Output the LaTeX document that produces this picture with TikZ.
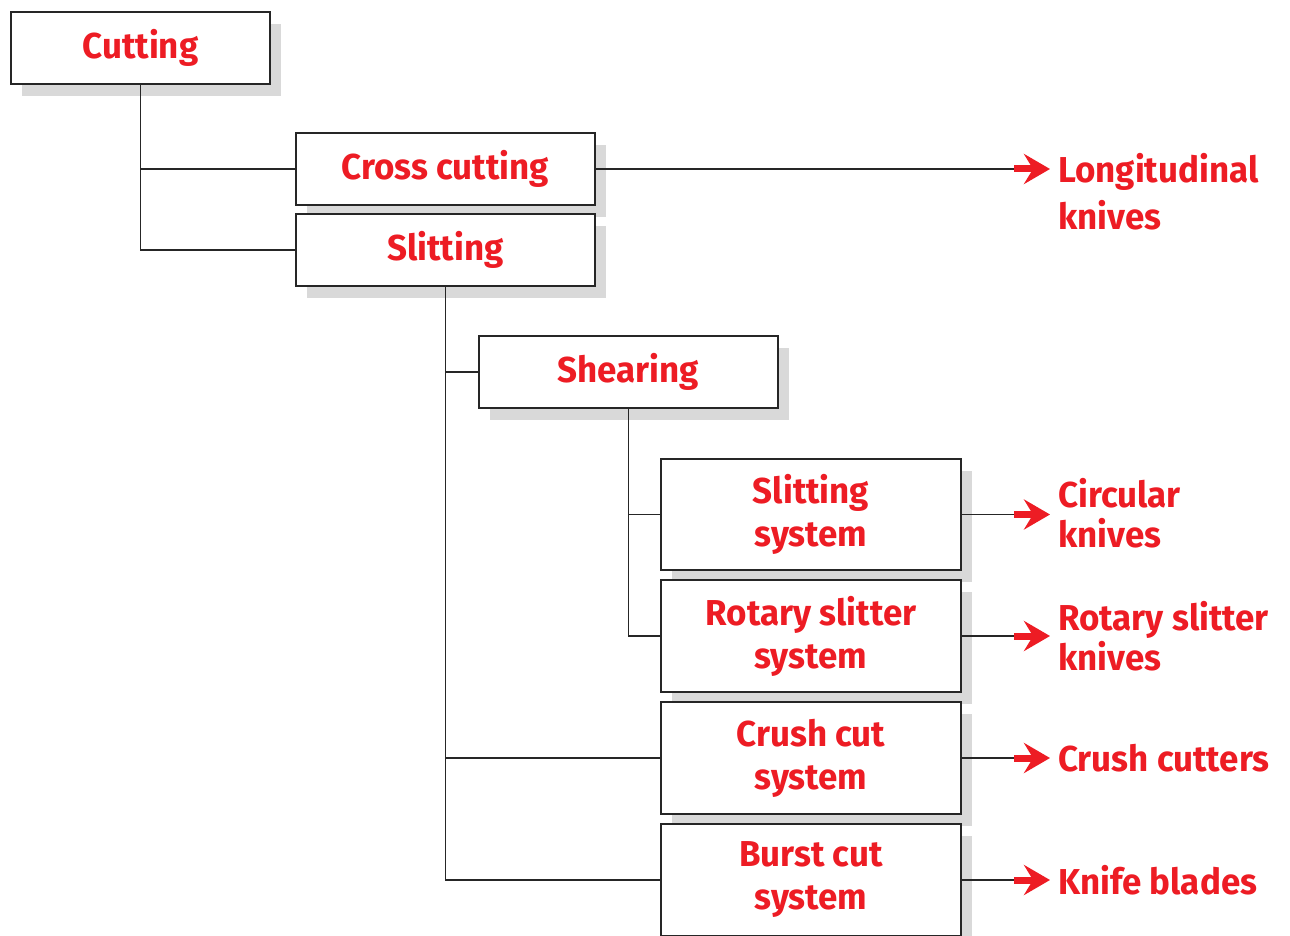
\documentclass[tikz,border=0pt]{standalone}
\usepackage{fontspec}
\setmainfont{Fira Sans}[FakeStretch=0.97]
\usetikzlibrary{arrows.meta,shadows}
\definecolor{cutred}{RGB}{237,28,36}
\definecolor{shadowgrey}{RGB}{217,217,217}
\tikzset{
  box/.style={draw=black!85, line width=1.4pt, fill=white, inner sep=0pt,
    general shadow={fill=shadowgrey, shadow xshift=11pt, shadow yshift=-12pt},
    font=\fontsize{36}{43}\selectfont\bfseries, text=cutred, align=center},
  label/.style={font=\fontsize{36}{40}\selectfont\bfseries, text=cutred, align=left, inner sep=0pt, anchor=west},
  wire/.style={line width=1.2pt, black!85},
  redarrow/.style={draw=cutred, line width=7pt, -{Stealth[length=26pt,width=30pt,inset=9pt]}}
}
\begin{document}
\begin{tikzpicture}[x=1pt,y=1pt,yscale=-1,xscale=1]
  \clip (0,0) rectangle (1290,936);
  %Shapes: boxes
  \node[box, minimum width=259, minimum height=72] (cutting) at (140.5,48) {Cutting};
  \node[box, minimum width=299, minimum height=72] (cross) at (445.5,169) {Cross cutting};
  \node[box, minimum width=299, minimum height=72] (slitting) at (445.5,250) {Slitting};
  \node[box, minimum width=299, minimum height=72] (shearing) at (628.5,372) {Shearing};
  \node[box, minimum width=300, minimum height=111] (slitsys) at (811,514.5) {Slitting\\system};
  \node[box, minimum width=300, minimum height=112] (rotsys) at (811,636) {Rotary slitter\\system};
  \node[box, minimum width=300, minimum height=112] (crushsys) at (811,758) {Crush cut\\system};
  \node[box, minimum width=300, minimum height=112] (burstsys) at (811,880) {Burst cut\\system};

  % Text Node
  \node[label, anchor=north west, font=\fontsize{36}{47}\selectfont\bfseries] (longknives) at (1058,153) {Longitudinal\\knives};
  \node[label] (circknives) at (1058,513) {Circular\\knives};
  \node[label] (rotknives) at (1058,636) {Rotary slitter\\knives};
  \node[label] (crushcutters) at (1058,758) {Crush cutters};
  \node[label] (knifeblades) at (1058,880) {Knife blades};

  %Lines: tree
  \draw[wire] (cutting.south) |- (cross.west);
  \draw[wire] (cutting.south) |- (slitting.west);
  \draw[wire] (slitting.south) |- (shearing.west);
  \draw[wire] (slitting.south) |- (crushsys.west);
  \draw[wire] (slitting.south) |- (burstsys.west);
  \draw[wire] (shearing.south) |- (slitsys.west);
  \draw[wire] (shearing.south) |- (rotsys.west);

  %Arrows: to the knives
  \coordinate (tail) at (1014,0);
  \coordinate (tip) at (1050,0);
  \foreach \b in {cross,slitsys,rotsys,crushsys,burstsys}{
    \draw[wire] (\b.east) -- (\b.east -| tail);
    \draw[redarrow] (\b.east -| tail) -- (\b.east -| tip);
  }
\end{tikzpicture}
\end{document}
